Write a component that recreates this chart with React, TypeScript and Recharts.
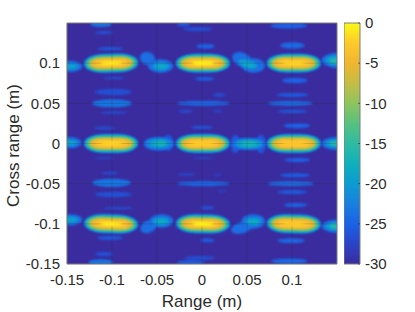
import React from 'react';
import {
  ScatterChart, Scatter, XAxis, YAxis, ReferenceArea, ReferenceLine, Label,
} from 'recharts';

const FONT = '"Liberation Sans", Arial, sans-serif';
const TEXT = '#2b2b2b';
const BOX = '#7d7d7d';

const rangeTicks = [-0.15, -0.1, -0.05, 0, 0.05, 0.1];
const crossTicks = [-0.15, -0.1, -0.05, 0, 0.05, 0.1];
const colorTicks = [-30, -25, -20, -15, -10, -5, 0];

// parula, low to high
const parula = [
  '#3a2c9e', '#2a44c8', '#1a62e6', '#1980de', '#0c9bd2', '#0eb0bb', '#2fbba2', '#57c17f',
  '#8fc45e', '#c4bd45', '#f1b52f', '#fdc92c', '#f9fb14',
];

// strongest returns: centre of each lobe, its peak in dB and its tilt in degrees
const lobeRange = [-0.101, 0.001, 0.102];
const lobeCross = [0.1, 0, -0.1];
const lobePeak = [
  [-1, -0.5, -2],
  [-2, -2.5, -3],
  [-0.8, -0.5, -2.5],
];
const lobeTilt = [
  [-1.5, 0, 0],
  [0, 0, 0],
  [2, 1, 1.5],
];

// contour levels of a lobe, half widths
const contourDb = [-24, -20, -16, -12, -8, -5, -3];
const contourHalfRange = [0.0303, 0.0292, 0.028, 0.0262, 0.0242, 0.0222, 0.018];
const contourHalfCross = [0.0118, 0.0108, 0.0095, 0.0082, 0.007, 0.0058, 0.0043];

// [range from, range to, cross top, cross bottom, dB]
const sideLobes = [
  [-0.124, -0.1, 0.152, 0.145, -23.5],
  [-0.119, -0.099, 0.14, 0.136, -26.5],
  [-0.116, -0.088, 0.12, 0.116, -25.5],
  [-0.11, -0.086, 0.083, 0.08, -26.5],
  [-0.119, -0.078, 0.068, 0.06, -26.5],
  [-0.122, -0.078, 0.055, 0.045, -23.5],
  [-0.113, -0.083, 0.04, 0.037, -26.5],
  [-0.12, -0.097, 0.021, 0.017, -26.5],
  [-0.121, -0.097, -0.017, -0.019, -26.5],
  [-0.111, -0.093, -0.035, -0.039, -27],
  [-0.122, -0.079, -0.044, -0.054, -23.5],
  [-0.119, -0.078, -0.06, -0.067, -26.5],
  [-0.109, -0.077, -0.079, -0.082, -26.5],
  [-0.116, -0.088, -0.115, -0.12, -25.5],
  [-0.119, -0.099, -0.135, -0.14, -26.5],
  [-0.126, -0.099, -0.144, -0.152, -23.5],
  [-0.028, -0.013, 0.151, 0.146, -25.5],
  [-0.021, 0.011, 0.145, 0.14, -26.5],
  [-0.006, 0.014, 0.124, 0.118, -25],
  [-0.008, 0.014, 0.083, 0.078, -25.5],
  [0.012, 0.026, 0.063, 0.058, -27],
  [-0.028, 0.031, 0.053, 0.047, -24.5],
  [-0.027, -0.01, 0.042, 0.038, -27],
  [0.012, 0.023, 0.042, 0.039, -27.5],
  [-0.012, 0.012, 0.022, 0.018, -26],
  [-0.011, 0.014, -0.017, -0.019, -26.5],
  [-0.027, -0.008, -0.037, -0.04, -27],
  [0.012, 0.023, -0.038, -0.04, -27.5],
  [-0.028, 0.031, -0.047, -0.053, -24.5],
  [0.017, 0.028, -0.058, -0.06, -27.5],
  [-0.002, 0.014, -0.078, -0.082, -26],
  [-0.002, 0.014, -0.118, -0.123, -25.5],
  [-0.019, 0.014, -0.14, -0.145, -26.5],
  [-0.028, 0.003, -0.145, -0.152, -25.5],
  [0.076, 0.117, 0.15, 0.143, -25],
  [0.087, 0.114, 0.126, 0.118, -24.5],
  [0.089, 0.117, 0.082, 0.075, -25],
  [0.083, 0.118, 0.063, 0.058, -25.5],
  [0.073, 0.123, 0.053, 0.047, -24],
  [0.084, 0.117, 0.042, 0.038, -25.5],
  [0.091, 0.12, 0.025, 0.019, -25],
  [0.092, 0.12, -0.018, -0.023, -25],
  [0.087, 0.12, -0.037, -0.042, -25.5],
  [0.073, 0.124, -0.047, -0.053, -24],
  [0.084, 0.117, -0.058, -0.063, -25.5],
  [0.091, 0.117, -0.074, -0.079, -25],
  [0.084, 0.114, -0.118, -0.124, -24.5],
  [0.077, 0.117, -0.143, -0.15, -24.5],
];

// stubs at the edges and the patches between lobes, with a tilt in degrees
const patches = [
  [-0.16, -0.133, 0.103, 0.089, -24, 0],
  [-0.158, -0.137, 0.1, 0.092, -21, 0],
  [-0.156, -0.14, 0.098, 0.094, -19, 0],
  [-0.16, -0.134, 0.008, -0.006, -24, 0],
  [-0.158, -0.138, 0.005, -0.003, -21, 0],
  [-0.156, -0.141, 0.003, -0.001, -19, 0],
  [-0.16, -0.133, -0.088, -0.102, -24, 0],
  [-0.158, -0.137, -0.091, -0.099, -21, 0],
  [-0.156, -0.14, -0.093, -0.097, -19, 0],
  [0.133, 0.17, 0.113, 0.094, -24, 0],
  [0.137, 0.17, 0.11, 0.097, -20, 0],
  [0.142, 0.17, 0.106, 0.1, -16, 0],
  [0.133, 0.17, 0.008, -0.008, -24, 0],
  [0.137, 0.17, 0.005, -0.005, -20, 0],
  [0.142, 0.17, 0.003, -0.003, -16, 0],
  [0.133, 0.17, -0.095, -0.111, -24, 0],
  [0.137, 0.17, -0.098, -0.108, -20, 0],
  [0.142, 0.17, -0.1, -0.106, -16, 0],
  [-0.043, -0.032, 0.011, -0.009, -26, 0],
  [-0.065, -0.031, 0.008, -0.009, -25, 0],
  [-0.063, -0.033, 0.007, -0.007, -22, 0],
  [-0.058, -0.038, 0.005, -0.005, -19, 0],
  [-0.052, -0.04, 0.003, -0.003, -17, 0],
  [0.032, 0.042, 0.011, -0.012, -26, 0],
  [0.06, 0.071, 0.011, -0.012, -26, 0],
  [0.033, 0.07, 0.007, -0.008, -24, 0],
  [0.037, 0.067, 0.005, -0.006, -20, 0],
  [0.043, 0.061, 0.003, -0.004, -17, 0],
  [-0.069, -0.052, 0.114, 0.098, -24, 20],
  [-0.06, -0.032, 0.105, 0.088, -24, 0],
  [-0.055, -0.036, 0.101, 0.091, -20, 0],
  [-0.05, -0.04, 0.098, 0.094, -18, 0],
  [0.033, 0.056, 0.113, 0.096, -24, 25],
  [0.044, 0.07, 0.106, 0.088, -24, 0],
  [0.04, 0.062, 0.104, 0.094, -20, 15],
  [0.045, 0.058, 0.1, 0.096, -18, 15],
  [-0.069, -0.05, -0.096, -0.111, -24, -25],
  [-0.058, -0.032, -0.088, -0.105, -24, 0],
  [-0.055, -0.036, -0.092, -0.102, -20, 0],
  [-0.05, -0.04, -0.095, -0.099, -18, 0],
  [0.032, 0.056, -0.098, -0.112, -24, -15],
  [0.044, 0.07, -0.088, -0.106, -24, 0],
  [0.048, 0.066, -0.092, -0.102, -20, 0],
  [0.052, 0.062, -0.095, -0.099, -18, 0],
];

const hexToRgb = (h: string) => [1, 3, 5].map((i) => parseInt(h.slice(i, i + 2), 16));

const dbColor = (db: number) => {
  const t = ((Math.max(-30, Math.min(0, db)) + 30) / 30) * (parula.length - 1);
  const i = Math.min(parula.length - 2, Math.floor(t));
  const a = hexToRgb(parula[i]);
  const b = hexToRgb(parula[i + 1]);
  const c = a.map((v, k) => Math.round(v + (b[k] - v) * (t - i)));
  return `rgb(${c[0]},${c[1]},${c[2]})`;
};

const ellipseShape = (fill: string) => (p: any) => (
  <g clipPath={p.clipPath}>
    <ellipse
      cx={p.x + p.width / 2} cy={p.y + p.height / 2}
      rx={Math.abs(p.width) / 2} ry={Math.abs(p.height) / 2}
      fill={fill} filter="url(#soft)"
    />
  </g>
);

const lobeShape = (fill: string, angle = 0) => (p: any) => (
  <g clipPath={p.clipPath}>
    <rect
      x={p.x} y={p.y} width={p.width} height={p.height}
      rx={Math.min(p.width / 2, p.height * 1.1)} ry={p.height / 2}
      fill={fill} filter="url(#soft)"
      transform={`rotate(${angle} ${p.x + p.width / 2} ${p.y + p.height / 2})`}
    />
  </g>
);

const area = (key: string, row: number[], shape: any) => (
  <ReferenceArea
    key={key} x1={row[0]} x2={row[1]} y1={row[3]} y2={row[2]}
    ifOverflow="hidden" shape={shape}
  />
);

const peaks = lobeCross.flatMap((cross, i) =>
  lobeRange.map((range, j) => ({ range, cross, peak: lobePeak[i][j], tilt: lobeTilt[i][j] })),
);
const colorMarks = colorTicks.map((y) => ({ x: 1, y }));

const tick = { fontFamily: FONT, fontSize: 15, fill: TEXT };
const labelStyle = { fontFamily: FONT, fontSize: 17, fill: TEXT };

const PeakDot = (p: any) => (
  <ellipse
    cx={p.cx} cy={p.cy} rx={11} ry={2.2} fill={dbColor(p.payload.peak)} filter="url(#soft)"
    transform={`rotate(${p.payload.tilt} ${p.cx} ${p.cy})`}
  />
);

const ColorMark = (p: any) => (
  <line x1={p.cx - 2} x2={p.cx} y1={p.cy} y2={p.cy} stroke="#262626" strokeOpacity={0.6} />
);

export default function App() {
  return (
    <div style={{ position: 'absolute', left: 0, top: 0, width: 415, height: 312, background: '#fff' }}>
      <div style={{ position: 'absolute', left: 0, top: 0 }}>
        <ScatterChart width={415} height={312} margin={{ top: 23, right: 78, bottom: 0, left: 0 }}>
          <defs>
            <filter id="soft" filterUnits="userSpaceOnUse" x="0" y="0" width="415" height="312">
              <feGaussianBlur stdDeviation="0.9" />
            </filter>
          </defs>
          <XAxis
            type="number" dataKey="range" domain={[-0.15, 0.15]} ticks={rangeTicks} interval={0}
            allowDataOverflow height={48} tick={tick} tickSize={0} tickMargin={10} stroke={BOX}
          >
            <Label value="Range (m)" position="insideBottom" offset={5} style={labelStyle} />
          </XAxis>
          <YAxis
            type="number" dataKey="cross" domain={[-0.15, 0.15]} ticks={crossTicks} interval={0}
            allowDataOverflow width={67} tick={tick} tickSize={0} tickMargin={7} stroke={BOX}
          >
            <Label value="Cross range (m)" angle={-90} position="insideLeft" offset={13} dy={2} style={{ ...labelStyle, textAnchor: 'middle' }} />
          </YAxis>
          <ReferenceArea x1={-0.15} x2={0.15} y1={-0.15} y2={0.15} fill={parula[0]} fillOpacity={1} />
          {sideLobes.map((r, i) => area(`s${i}`, r, ellipseShape(dbColor(r[4]))))}
          {patches.map((r, i) => area(`p${i}`, r, lobeShape(dbColor(r[4]), r[5])))}
          {peaks.flatMap((l, i) =>
            contourDb.map((db, k) =>
              area(
                `l${i}-${k}`,
                [l.range - contourHalfRange[k], l.range + contourHalfRange[k], l.cross + contourHalfCross[k], l.cross - contourHalfCross[k]],
                lobeShape(dbColor(db), l.tilt),
              ),
            ),
          )}
          <Scatter data={peaks} isAnimationActive={false} shape={PeakDot} />
          {rangeTicks.map((v) => <ReferenceLine key={`gx${v}`} x={v} stroke="#262626" strokeOpacity={0.18} />)}
          {crossTicks.map((v) => <ReferenceLine key={`gy${v}`} y={v} stroke="#262626" strokeOpacity={0.18} />)}
          <ReferenceLine x={0.15} stroke={BOX} />
          <ReferenceLine y={0.15} stroke={BOX} />
        </ScatterChart>
      </div>
      <div style={{ position: 'absolute', left: 344, top: 0 }}>
        <ScatterChart width={71} height={312} margin={{ top: 23, right: 0, bottom: 48, left: 0 }}>
          <defs>
            <linearGradient id="parulaBar" x1="0" y1="1" x2="0" y2="0">
              {parula.map((c, i) => <stop key={c} offset={i / (parula.length - 1)} stopColor={c} />)}
            </linearGradient>
          </defs>
          <XAxis type="number" dataKey="x" domain={[0, 1]} hide />
          <YAxis
            type="number" dataKey="y" orientation="right" domain={[-30, 0]} ticks={colorTicks} interval={0}
            width={55} tick={tick} tickSize={0} tickMargin={5} axisLine={false}
          />
          <ReferenceArea x1={0} x2={1} y1={-30} y2={0} fill="url(#parulaBar)" fillOpacity={1} stroke={BOX} />
          <Scatter data={colorMarks} isAnimationActive={false} shape={ColorMark} />
        </ScatterChart>
      </div>
    </div>
  );
}
